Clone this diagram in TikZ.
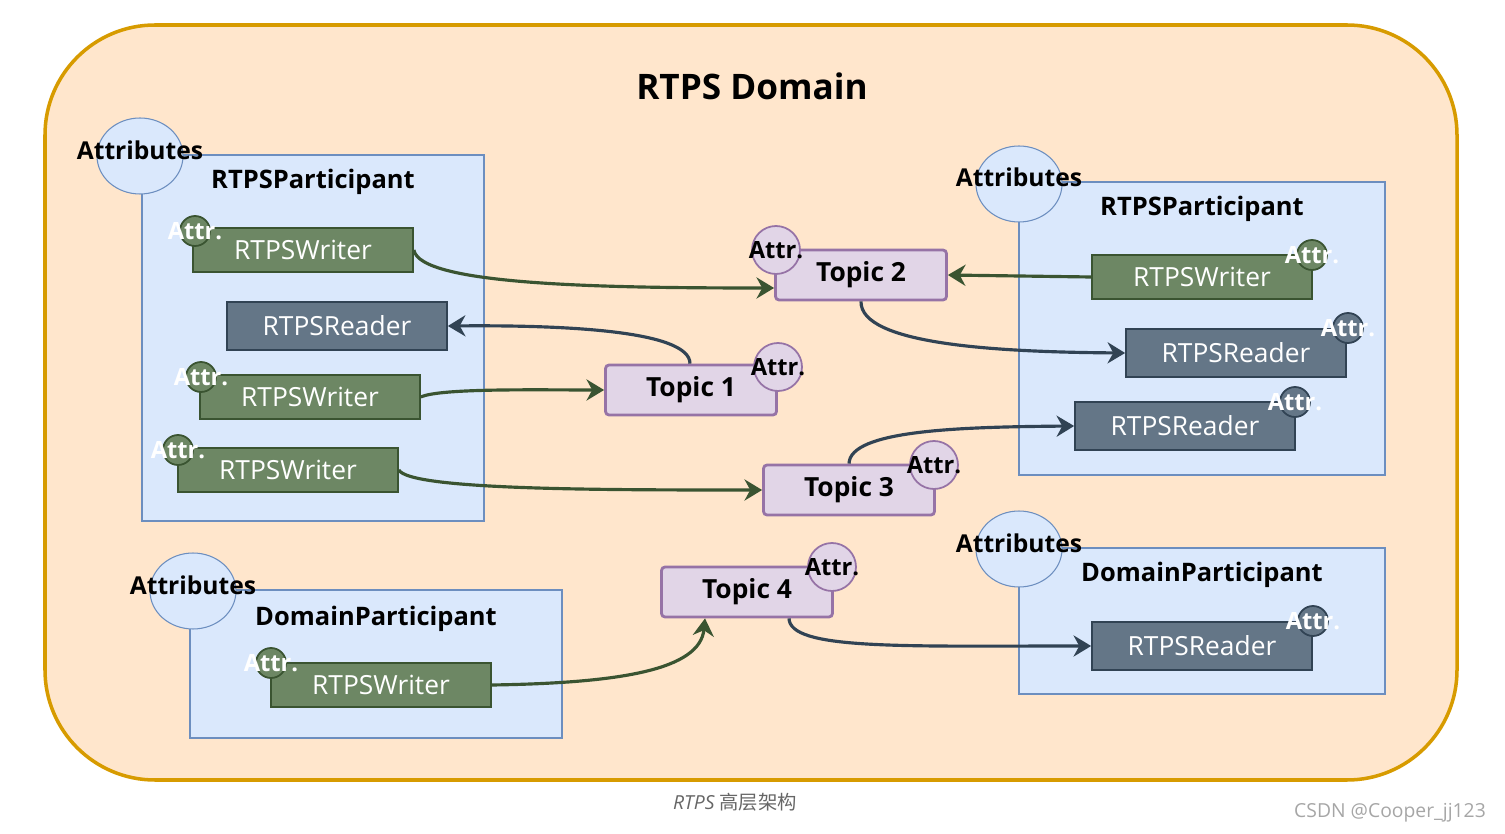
\documentclass[tikz,border=0pt]{standalone}
\usepackage{fontspec}
\setmainfont{Open Sans}
\newfontfamily\cjk{Noto Sans CJK SC}
\usetikzlibrary{arrows.meta}
\definecolor{domfill}{HTML}{FFE6CC}
\definecolor{domline}{HTML}{D79B00}
\definecolor{partfill}{HTML}{DAE8FC}
\definecolor{partline}{HTML}{6C8EBF}
\definecolor{wfill}{HTML}{6D8764}
\definecolor{wline}{HTML}{3A5431}
\definecolor{rfill}{HTML}{647687}
\definecolor{rline}{HTML}{314354}
\definecolor{tfill}{HTML}{E1D5E7}
\definecolor{tline}{HTML}{9673A6}
\tikzset{
  partbox/.style={draw=partline,fill=partfill,line width=1.6pt},
  attrs/.style={draw=partline,fill=partfill,line width=0.6pt,ellipse,minimum width=1.72cm,minimum height=1.52cm},
  attrslabel/.style={font=\fontsize{14}{14}\selectfont\bfseries},
  plabel/.style={font=\fontsize{14.5}{14}\selectfont\bfseries},
  writer/.style={draw=wline,fill=wfill,line width=1pt,text=white,minimum width=4.4cm,minimum height=0.88cm,font=\fontsize{15}{15}\selectfont},
  reader/.style={draw=rline,fill=rfill,line width=1pt,text=white,minimum width=4.4cm,minimum height=0.96cm,font=\fontsize{15}{15}\selectfont},
  wattr/.style={circle,draw=wline,fill=wfill,line width=1pt,minimum size=0.6cm,inner sep=0pt},
  rattr/.style={circle,draw=rline,fill=rfill,line width=1pt,minimum size=0.6cm,inner sep=0pt},
  attrtext/.style={text=white,font=\fontsize{13.5}{13}\selectfont\bfseries},
  topic/.style={draw=tline,fill=tfill,line width=1.6pt,rounded corners=2pt,minimum width=3.42cm,minimum height=1cm,font=\fontsize{15}{15}\selectfont\bfseries},
  tattr/.style={circle,draw=tline,fill=tfill,line width=1pt,minimum size=0.96cm,inner sep=0pt},
  wlink/.style={draw=wline,line width=1.8pt,-{Stealth[open,fill=wline,length=10pt,width=12pt]}},
  rlink/.style={draw=rline,line width=1.8pt,-{Stealth[open,fill=rline,length=10pt,width=12pt]}},
}
\usetikzlibrary{shapes.geometric}
\begin{document}
\begin{tikzpicture}[x=0.02cm,y=-0.02cm]
\useasboundingbox (0,0) rectangle (1505,834);
% domain
\draw[domline,fill=domfill,line width=2pt,rounded corners=2.2cm] (45,25) rectangle (1457,780);
\node[font=\fontsize{20}{20}\selectfont\bfseries] (title) at (752,86) {RTPS Domain};
\node[text=gray!80!black,font=\fontsize{11}{11}\selectfont\itshape] (caption) at (735,802) {RTPS \cjk 高层架构};
\node[text=gray!70,font=\fontsize{11}{11}\selectfont,anchor=east] (mark) at (1492,813) {CSDN @Cooper\_jj123};
% left participant
\draw[partbox] (142,155) rectangle (484,521);
\node[attrs] (attrA) at (140,156) {};
\node[attrslabel] at (140,150) {Attributes};
\node[plabel] (partA) at (313,182) {RTPSParticipant};
\node[writer] (wA1) at (303,250) {RTPSWriter};
\node[wattr] at (195,231) {}; \node[attrtext] at (195,231) {Attr.};
\node[reader] (rA1) at (337,326) {RTPSReader};
\node[writer] (wA2) at (310,397) {RTPSWriter};
\node[wattr] at (201,377) {}; \node[attrtext] at (201,377) {Attr.};
\node[writer] (wA3) at (288,470) {RTPSWriter};
\node[wattr] at (178,450) {}; \node[attrtext] at (178,450) {Attr.};
% right participant
\draw[partbox] (1019,182) rectangle (1385,475);
\node[attrs] (attrB) at (1019,184) {};
\node[attrslabel] at (1019,177) {Attributes};
\node[plabel] (partB) at (1202,209) {RTPSParticipant};
\node[writer] (wB1) at (1202,277) {RTPSWriter};
\node[wattr] at (1312,255) {}; \node[attrtext] at (1312,255) {Attr.};
\node[reader] (rB1) at (1236,353) {RTPSReader};
\node[rattr] at (1348,328) {}; \node[attrtext] at (1348,328) {Attr.};
\node[reader] (rB2) at (1185,426) {RTPSReader};
\node[rattr] at (1295,402) {}; \node[attrtext] at (1295,402) {Attr.};
% domain participants
\draw[partbox] (1019,548) rectangle (1385,694);
\node[attrs] (attrC) at (1019,549) {};
\node[attrslabel] at (1019,543) {Attributes};
\node[plabel] (partC) at (1202,575) {DomainParticipant};
\node[reader] (rC1) at (1202,646) {RTPSReader};
\node[rattr] at (1313,621) {}; \node[attrtext] at (1313,621) {Attr.};
\draw[partbox] (190,590) rectangle (562,738);
\node[attrs] (attrD) at (193,591) {};
\node[attrslabel] at (193,585) {Attributes};
\node[plabel] (partD) at (376,619) {DomainParticipant};
\node[writer] (wD1) at (381,685) {RTPSWriter};
\node[wattr] at (271,663) {}; \node[attrtext] at (271,663) {Attr.};
% topics
\node[topic] (t2) at (861,275) {Topic 2};
\node[tattr] at (776,250) {}; \node[font=\fontsize{13.5}{13}\selectfont\bfseries] at (776,250) {Attr.};
\node[topic] (t1) at (691,390) {Topic 1};
\node[tattr] at (778,367) {}; \node[font=\fontsize{13.5}{13}\selectfont\bfseries] at (778,367) {Attr.};
\node[topic] (t3) at (849,490) {Topic 3};
\node[tattr] at (934,465) {}; \node[font=\fontsize{13.5}{13}\selectfont\bfseries] at (934,465) {Attr.};
\node[topic] (t4) at (747,592) {Topic 4};
\node[tattr] at (832,567) {}; \node[font=\fontsize{13.5}{13}\selectfont\bfseries] at (832,567) {Attr.};
% links
\draw[wlink] (wA1.east) .. controls (420,285) and (600,288) .. ([yshift=-0.26cm]t2.west);
\draw[rlink] ([xshift=-0.02cm]t1.north) .. controls (690,330) and (560,325) .. (rA1.east);
\draw[wlink] (wA2.east) .. controls (440,388) and (540,390) .. (t1.west);
\draw[wlink] (wA3.east) .. controls (410,490) and (600,490) .. (t3.west);
\draw[wlink] (wB1.west) -- (t2.east);
\draw[rlink] ([xshift=0cm]t2.south) .. controls (860,345) and (1000,352) .. (rB1.west);
\draw[rlink] (t3.north) .. controls (850,430) and (960,427) .. (rB2.west);
\draw[wlink] (wD1.east) .. controls (620,683) and (700,670) .. ([xshift=-0.84cm]t4.south);
\draw[rlink] ([xshift=0.84cm]t4.south) .. controls (790,650) and (900,646) .. (rC1.west);
\end{tikzpicture}
\end{document}
